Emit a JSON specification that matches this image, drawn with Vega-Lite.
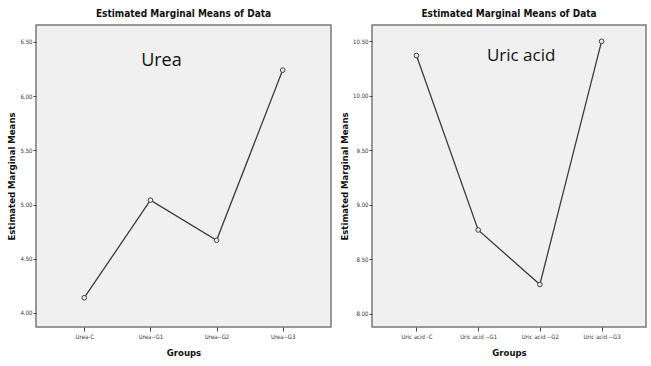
{
  "$schema": "https://vega.github.io/schema/vega-lite/v6.json",
  "background": "white",
  "padding": {"left": 6, "top": 8, "right": 0, "bottom": 0},
  "datasets": {
    "urea": [
      {"group": "Urea-C", "mean": 4.14},
      {"group": "Urea--G1", "mean": 5.04},
      {"group": "Urea--G2", "mean": 4.67},
      {"group": "Urea--G3", "mean": 6.24}
    ],
    "uric": [
      {"group": "Uric acid -C", "mean": 10.37},
      {"group": "Uric acid --G1", "mean": 8.77},
      {"group": "Uric acid --G2", "mean": 8.27},
      {"group": "Uric acid --G3", "mean": 10.5}
    ]
  },
  "config": {
    "view": {"fill": "#f0f0f0", "stroke": "#7a7a7a", "strokeWidth": 1.5},
    "font": "DejaVu Sans Condensed, Liberation Sans, sans-serif",
    "title": {"font": "DejaVu Sans Condensed, Liberation Sans, sans-serif", "fontSize": 10, "fontWeight": "bold", "color": "#111", "offset": 6, "anchor": "middle"},
    "axis": {
      "grid": false,
      "domain": false,
      "labelFont": "DejaVu Sans Condensed, Liberation Sans, sans-serif",
      "labelFontSize": 6,
      "labelColor": "#333",
      "tickColor": "#444",
      "titleFont": "DejaVu Sans Condensed, Liberation Sans, sans-serif",
      "titleFontSize": 9.5,
      "titleFontWeight": "bold",
      "titleColor": "#111"
    },
    "axisY": {"tickSize": 3, "labelPadding": 1, "titlePadding": 3},
    "axisX": {"tickSize": 4, "labelPadding": 2, "titlePadding": 8, "labelAngle": 0}
  },
  "hconcat": [
    {
      "width": 295,
      "height": 302,
      "title": "Estimated Marginal Means of Data",
      "layer": [
        {
          "data": {"name": "urea"},
          "mark": {"type": "line", "color": "#3c3c3c", "strokeWidth": 1.3},
          "encoding": {
            "x": {"field": "group", "type": "nominal", "sort": null, "scale": {"type": "point", "padding": 0.73, "domain": ["Urea-C", "Urea--G1", "Urea--G2", "Urea--G3"]}, "axis": {"title": "Groups"}},
            "y": {"field": "mean", "type": "quantitative", "scale": {"domain": [3.87, 6.656], "zero": false, "nice": false}, "axis": {"title": "Estimated Marginal Means", "values": [4, 4.5, 5, 5.5, 6, 6.5], "format": ".2f"}}
          }
        },
        {
          "data": {"name": "urea"},
          "mark": {"type": "point", "shape": "circle", "size": 22, "filled": false, "fill": "#e6e6e6", "stroke": "#444", "strokeWidth": 1, "opacity": 1},
          "encoding": {
            "x": {"field": "group", "type": "nominal", "sort": null},
            "y": {"field": "mean", "type": "quantitative"}
          }
        },
        {
          "data": {"values": [{"label": "Urea", "group": "Urea--G1", "pos": 6.32}]},
          "mark": {"type": "text", "font": "Open Sans", "fontSize": 18, "color": "#111", "dx": 11, "baseline": "middle", "align": "center"},
          "encoding": {
            "x": {"field": "group", "type": "nominal", "sort": null},
            "y": {"field": "pos", "type": "quantitative"},
            "text": {"field": "label"}
          }
        }
      ]
    },
    {
      "width": 274,
      "height": 302,
      "title": "Estimated Marginal Means of Data",
      "layer": [
        {
          "data": {"name": "uric"},
          "mark": {"type": "line", "color": "#3c3c3c", "strokeWidth": 1.3},
          "encoding": {
            "x": {"field": "group", "type": "nominal", "sort": null, "scale": {"type": "point", "padding": 0.72, "domain": ["Uric acid -C", "Uric acid --G1", "Uric acid --G2", "Uric acid --G3"]}, "axis": {"title": "Groups"}},
            "y": {"field": "mean", "type": "quantitative", "scale": {"domain": [7.88, 10.65], "zero": false, "nice": false}, "axis": {"title": "Estimated Marginal Means", "values": [8, 8.5, 9, 9.5, 10, 10.5], "format": ".2f"}}
          }
        },
        {
          "data": {"name": "uric"},
          "mark": {"type": "point", "shape": "circle", "size": 22, "filled": false, "fill": "#e6e6e6", "stroke": "#444", "strokeWidth": 1, "opacity": 1},
          "encoding": {
            "x": {"field": "group", "type": "nominal", "sort": null},
            "y": {"field": "mean", "type": "quantitative"}
          }
        },
        {
          "data": {"values": [{"label": "Uric acid", "group": "Uric acid --G1", "pos": 10.37}]},
          "mark": {"type": "text", "font": "Open Sans", "fontSize": 17, "color": "#111", "dx": 43, "baseline": "middle", "align": "center"},
          "encoding": {
            "x": {"field": "group", "type": "nominal", "sort": null},
            "y": {"field": "pos", "type": "quantitative"},
            "text": {"field": "label"}
          }
        }
      ]
    }
  ],
  "spacing": 6
}
